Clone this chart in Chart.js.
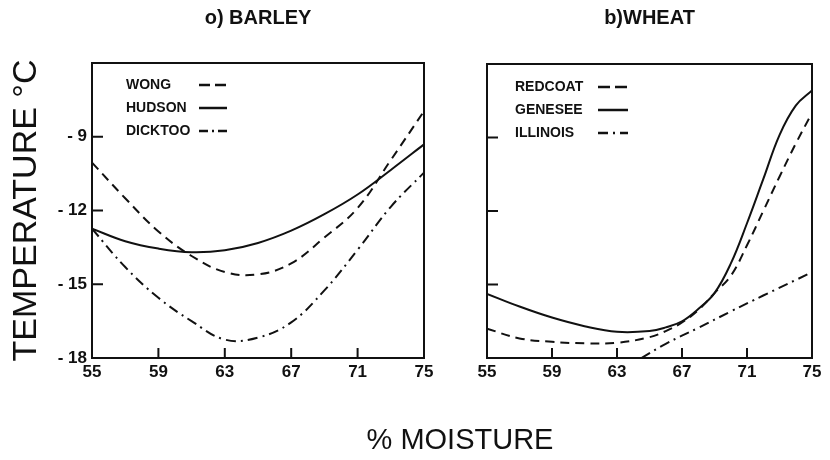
<!DOCTYPE html>
<html><head><meta charset="utf-8">
<script src="https://cdn.jsdelivr.net/npm/chart.js@4.4.1/dist/chart.umd.min.js"></script>
<style>
html,body{margin:0;padding:0;background:#fff;}
#wrap{position:relative;width:830px;height:460px;overflow:hidden;background:#fff;}
canvas{position:absolute;left:0;top:0;}
#xtitle{position:absolute;left:330px;width:260px;top:425px;text-align:center;font:29px "Liberation Sans",Arial,sans-serif;line-height:29px;color:#111;}
</style></head><body>
<div id="wrap">
<canvas id="barley" width="830" height="460"></canvas>
<canvas id="wheat" width="830" height="460"></canvas>
<div id="xtitle">% MOISTURE</div>
</div>
<script>
// ---- data ----
const moistureTicks = [55, 59, 63, 67, 71, 75];
const temperatureTicks = [-18, -15, -12, -9];

const barleyMoisture = [55, 57, 59, 61, 63, 65, 67, 69, 71, 73, 75];
const wong    = [-10.05, -11.5, -12.85, -13.85, -14.5, -14.6, -14.15, -13.1, -11.9, -9.95, -7.96];
const hudson  = [-12.74, -13.25, -13.55, -13.7, -13.62, -13.32, -12.82, -12.15, -11.35, -10.35, -9.31];
const dicktoo = [-12.74, -14.3, -15.55, -16.5, -17.25, -17.17, -16.55, -15.25, -13.6, -11.85, -10.46];

const wheatMoisture = [55, 57, 59, 61, 63, 65, 66, 67, 68, 69, 70, 71, 72, 73, 74, 75];
const redcoat = [-16.8, -17.2, -17.34, -17.4, -17.38, -17.15, -16.9, -16.55, -16.05, -15.35, -14.65, -13.4, -12.0, -10.6, -9.25, -8.0];
const genesee = [-15.38, -15.9, -16.35, -16.7, -16.93, -16.9, -16.75, -16.5, -16.0, -15.35, -14.15, -12.5, -10.7, -8.9, -7.7, -7.08];
const illinoisMoisture = [64.5, 66, 68, 70, 72, 75];
const illinois = [-18, -17.42, -16.77, -16.1, -15.45, -14.5];

// ---- styling ----
const F = '"Liberation Sans", Arial, sans-serif';
const INK = '#111';
const DASH = [9, 6];
const DASHDOT = [10, 5, 2, 5];

function series(label, xs, ys, dash) {
  return {
    label,
    data: xs.map((x, i) => ({ x, y: ys[i] })),
    borderColor: INK,
    borderWidth: 2,
    borderDash: dash,
    pointRadius: 0,
    fill: false,
    tension: 0.4
  };
}

const framePlugin = {
  id: 'frame',
  afterDatasetsDraw(chart) {
    const { ctx, chartArea: a, scales: { x, y } } = chart;
    ctx.save();
    ctx.strokeStyle = INK;
    ctx.lineWidth = 2;
    ctx.setLineDash([]);
    ctx.strokeRect(a.left, a.top, a.right - a.left, a.bottom - a.top);
    ctx.beginPath();
    x.ticks.forEach(t => {
      const px = x.getPixelForValue(t.value);
      ctx.moveTo(px, a.bottom); ctx.lineTo(px, a.bottom - 10);
    });
    y.ticks.forEach(t => {
      const py = y.getPixelForValue(t.value);
      ctx.moveTo(a.left, py); ctx.lineTo(a.left + 11, py);
    });
    ctx.stroke();
    ctx.restore();
  }
};

const keyPlugin = {
  id: 'seriesKey',
  afterDatasetsDraw(chart, args, o) {
    const { ctx, chartArea: a } = chart;
    ctx.save();
    ctx.font = 'bold 14px ' + F;
    ctx.fillStyle = INK;
    ctx.textBaseline = 'middle';
    ctx.textAlign = 'left';
    chart.data.datasets.forEach((ds, i) => {
      const yy = a.top + o.rowY + i * o.rowGap;
      ctx.fillText(ds.label, a.left + o.textX, yy);
      ctx.beginPath();
      ctx.strokeStyle = INK;
      ctx.lineWidth = 2.5;
      ctx.setLineDash(o.dashes[i]);
      ctx.moveTo(a.left + o.lineX, yy);
      ctx.lineTo(a.left + o.lineX + o.lineLen, yy);
      ctx.stroke();
    });
    ctx.restore();
  }
};

function makeChart(id, title, datasets, cfg) {
  return new Chart(document.getElementById(id), {
    type: 'line',
    data: { datasets },
    plugins: [framePlugin, keyPlugin],
    options: {
      responsive: false,
      animation: false,
      events: [],
      layout: { padding: { left: 0, right: cfg.padRight, top: 0, bottom: 0 } },
      plugins: {
        legend: { display: false },
        tooltip: { enabled: false },
        title: {
          display: true, text: title, fullSize: false, color: INK,
          font: { family: F, size: 20, weight: 'bold' },
          padding: { top: 6, bottom: cfg.titleBottom }
        },
        seriesKey: cfg.key
      },
      scales: {
        x: {
          type: 'linear', min: 55, max: 75,
          afterBuildTicks: s => { s.ticks = moistureTicks.map(v => ({ value: v })); },
          afterFit: s => { s.height = 102; },
          grid: { display: false, drawTicks: false },
          border: { display: false },
          ticks: { color: INK, font: { family: F, size: 17, weight: 'bold' }, padding: 4, maxRotation: 0, autoSkip: false }
        },
        y: {
          type: 'linear', min: -18, max: -6,
          afterBuildTicks: s => { s.ticks = temperatureTicks.map(v => ({ value: v })); },
          afterFit: s => { s.width = cfg.yWidth; },
          grid: { display: false, drawTicks: false },
          border: { display: false },
          ticks: {
            display: cfg.showY, color: INK, font: { family: F, size: 17, weight: 'bold' }, padding: 5, autoSkip: false,
            callback: v => '- ' + Math.abs(v)
          },
          title: {
            display: cfg.showY, text: 'TEMPERATURE °C', color: INK,
            font: { family: F, size: 34 }, padding: { top: 6, bottom: 0 }
          }
        }
      }
    }
  });
}

makeChart('barley', 'o) BARLEY', [
  series('WONG', barleyMoisture, wong, DASH),
  series('HUDSON', barleyMoisture, hudson, []),
  series('DICKTOO', barleyMoisture, dicktoo, DASHDOT)
], {
  padRight: 830 - 424, yWidth: 92, titleBottom: 33, showY: true,
  key: { textX: 34, lineX: 107, lineLen: 28, rowY: 22, rowGap: 23, dashes: [[11, 5], [], [9, 4, 2, 4]] }
});

makeChart('wheat', 'b)WHEAT', [
  series('REDCOAT', wheatMoisture, redcoat, DASH),
  series('GENESEE', wheatMoisture, genesee, []),
  series('ILLINOIS', illinoisMoisture, illinois, DASHDOT)
], {
  padRight: 830 - 812, yWidth: 487, titleBottom: 34, showY: false,
  key: { textX: 28, lineX: 111, lineLen: 30, rowY: 23, rowGap: 23, dashes: [[12, 5], [], [10, 5, 2, 5]] }
});
</script>
</body></html>
